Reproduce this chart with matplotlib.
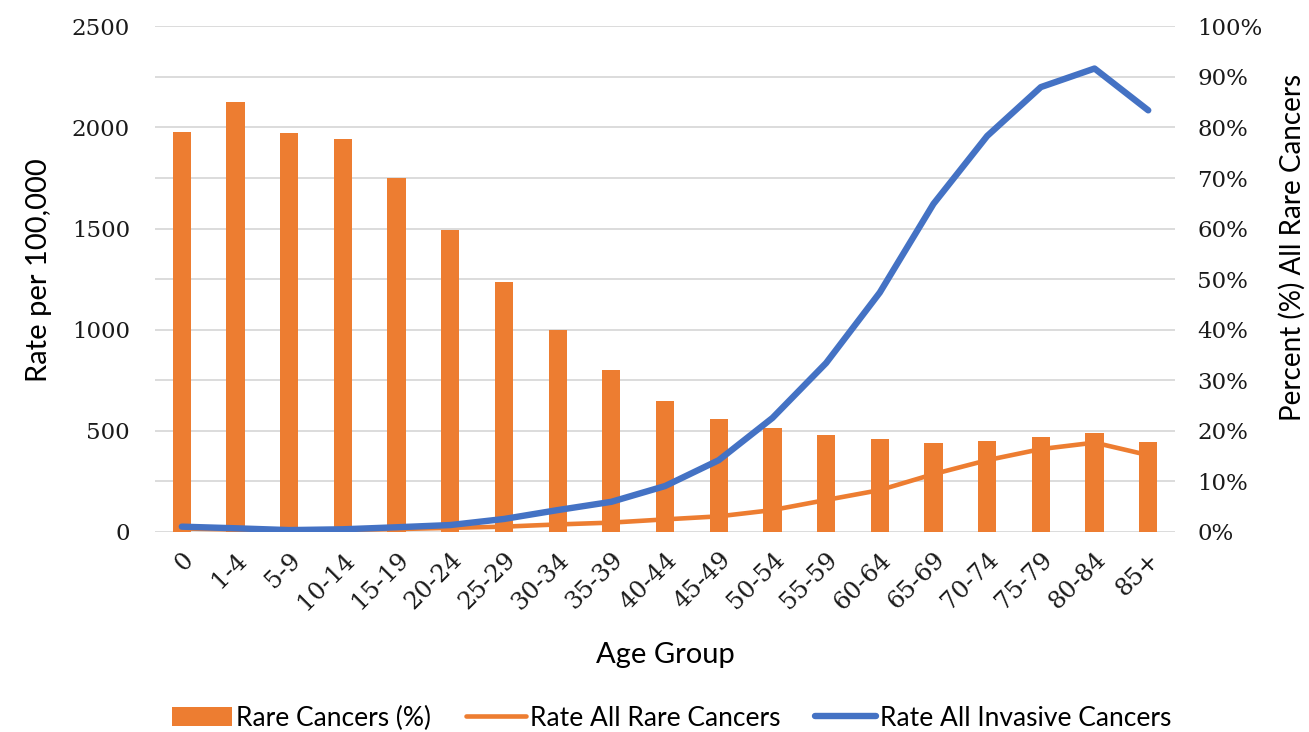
import matplotlib.pyplot as plt
import numpy as np
from matplotlib.ticker import PercentFormatter

age_groups = ["0", "1-4", "5-9", "10-14", "15-19", "20-24", "25-29", "30-34", "35-39",
              "40-44", "45-49", "50-54", "55-59", "60-64", "65-69", "70-74", "75-79",
              "80-84", "85+"]
rare_pct = [79.2, 85.0, 78.9, 77.7, 70.0, 59.7, 49.5, 40.0, 32.0,
            25.9, 22.2, 20.4, 19.1, 18.3, 17.6, 18.0, 18.8, 19.6, 17.8]
rate_rare = [15, 10, 6, 8, 12, 18, 24, 35, 44,
             60, 75, 106, 156, 205, 284, 353, 408, 440, 378]
rate_invasive = [24, 16, 7, 11, 21, 32, 62, 106, 147,
                 225, 353, 562, 834, 1183, 1622, 1958, 2200, 2292, 2085]

orange = "#ED7D31"
blue = "#4472C4"
grid_col = "#D9D9D9"
tick_font = "DejaVu Serif"
label_font = "Lato"

fig = plt.figure(figsize=(13.09, 7.32), dpi=100)
ax = fig.add_axes([0.1184, 0.2739, 0.7793, 0.6899])
ax2 = ax.twinx()
ax.set_zorder(ax2.get_zorder() + 1)
ax.patch.set_visible(False)

x = np.arange(len(age_groups))

# bars on the percent axis, behind the lines
ax2.bar(x, rare_pct, width=0.34, color=orange, label="Rare Cancers (%)", zorder=2)
ax2.set_ylim(0, 100)
ax2.set_yticks(np.arange(0, 101, 10))
ax2.yaxis.set_major_formatter(PercentFormatter(decimals=0))
ax2.grid(axis="y", color=grid_col, linewidth=1.3, zorder=0)
ax2.set_axisbelow(True)

ax.plot(x, rate_rare, color=orange, linewidth=3.3, solid_capstyle="round",
        label="Rate All Rare Cancers")
ax.plot(x, rate_invasive, color=blue, linewidth=4.6, solid_capstyle="round",
        label="Rate All Invasive Cancers")
ax.set_ylim(0, 2500)
ax.set_yticks(np.arange(0, 2501, 500))
ax.set_xlim(-0.5, len(age_groups) - 0.5)
ax.set_xticks(x)
ax.set_xticklabels(age_groups, rotation=45, ha="right", rotation_mode="anchor")

for a in (ax, ax2):
    for s in a.spines.values():
        s.set_visible(False)
    a.tick_params(length=0, labelsize=16.5, colors="#1a1a1a")
    for lab in a.get_yticklabels() + a.get_xticklabels():
        lab.set_family(tick_font)
ax.tick_params(axis="x", labelsize=17.5, pad=12)
ax.yaxis.set_tick_params(pad=18)
ax2.yaxis.set_tick_params(pad=16)

ax.set_xlabel("Age Group", family=label_font, fontsize=21, labelpad=20)
ax.set_ylabel("Rate per 100,000", family=label_font, fontsize=21, labelpad=14)
ax2.set_ylabel("Percent (%) All Rare Cancers", family=label_font, fontsize=20, labelpad=12)
ax.yaxis.label.set_y(0.518)
ax2.yaxis.label.set_y(0.563)

h1, l1 = ax2.get_legend_handles_labels()
h2, l2 = ax.get_legend_handles_labels()
fig.legend(h1 + h2, l1 + l2, loc="center", bbox_to_anchor=(0.513, 0.019), ncol=3,
           frameon=False, prop={"family": label_font, "size": 19},
           handlelength=2.3, handletextpad=0.15, columnspacing=1.3)

fig.savefig("out.png", dpi=100)
